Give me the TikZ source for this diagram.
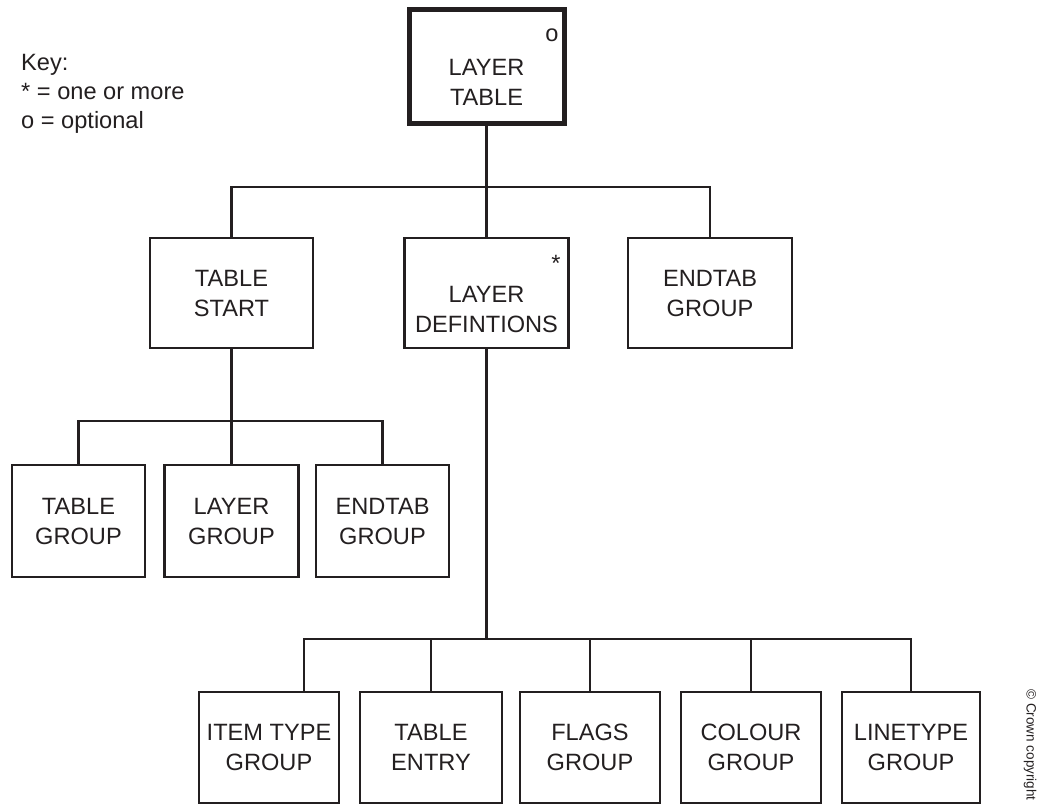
\documentclass[tikz,border=0pt]{standalone}
\usepackage{fontspec}
\setmainfont{Liberation Sans}
\definecolor{ink}{HTML}{231F20}
\tikzset{
  bigfont/.style={font=\fontsize{23.6}{30}\selectfont},
  lbl/.style={bigfont, align=center, text=ink, inner sep=0pt},
  box/.style={lbl, draw=ink, line width=2.5pt, minimum height=#1},
  box/.default=110,
  topbox/.style={draw=ink, line width=5pt, inner sep=0pt},
  sym/.style={bigfont, text=ink, inner sep=0pt},
  keytxt/.style={bigfont, text=ink, inner sep=0pt, anchor=base west},
  conn/.style={draw=ink, line width=2.5pt},
}
\begin{document}
\begin{tikzpicture}[x=1pt,y=-1pt]
\useasboundingbox (0,0) rectangle (1038,805);

% key
\node[keytxt] (key1) at (21,70.5) {Key:};
\node[keytxt] (key2) at (21,99.5) {* = one or more};
\node[keytxt] (key3) at (21,128.5) {o = optional};

% top
\node[topbox, minimum width=155, minimum height=114] (lt) at (486.5,67) {};
\node[lbl] (ltt) at (486.5,82) {LAYER\\TABLE};
\node[sym, anchor=base] (lto) at (552,42) {o};

% middle row
\node[box, minimum width=163] (ts) at (231.5,293) {TABLE\\START};
\node[box, minimum width=164] (ld) at (486.5,293) {};
\node[lbl] (ldt) at (486.5,309) {LAYER\\DEFINTIONS};
\node[sym, anchor=base] (lds) at (556,271.5) {*};
\node[box, minimum width=164] (eg) at (710,293) {ENDTAB\\GROUP};

% third row
\node[box=112, minimum width=133] (tg) at (78.5,521) {TABLE\\GROUP};
\node[box=112, minimum width=134] (lg) at (231.5,521) {LAYER\\GROUP};
\node[box=112, minimum width=133] (eg2) at (382.5,521) {ENDTAB\\GROUP};

% bottom row
\node[box=111, minimum width=140] (itg) at (269,747.5) {ITEM TYPE\\GROUP};
\node[box=111, minimum width=142] (te) at (431,747.5) {TABLE\\ENTRY};
\node[box=111, minimum width=140] (fg) at (590,747.5) {FLAGS\\GROUP};
\node[box=111, minimum width=140] (cg) at (751,747.5) {COLOUR\\GROUP};
\node[box=111, minimum width=138] (ltg) at (911,747.5) {LINETYPE\\GROUP};

% copyright
\node[text=ink, inner sep=0pt, rotate=-90, font=\fontsize{13.5}{16}\selectfont] (copy) at (1030,745) {© Crown copyright};

% connectors
\coordinate (bus1) at (486.5,187);
\coordinate (bus2) at (231.5,421);
\coordinate (bus3) at (304,639);

\draw[conn] (lt.south) -- (ld.north);
\draw[conn] (ts.north) -- (ts.north |- bus1) -- (eg.north |- bus1) -- (eg.north);

\draw[conn] (ts.south) -- (lg.north);
\draw[conn] (tg.north) -- (tg.north |- bus2) -- (eg2.north |- bus2) -- (eg2.north);

\draw[conn] (ld.south) -- (ld.south |- bus3);
\draw[conn] (bus3 |- itg.north) -- (bus3) -- (ltg.north |- bus3) -- (ltg.north);
\draw[conn] (te.north) -- (te.north |- bus3);
\draw[conn] (fg.north) -- (fg.north |- bus3);
\draw[conn] (cg.north) -- (cg.north |- bus3);
\end{tikzpicture}
\end{document}
